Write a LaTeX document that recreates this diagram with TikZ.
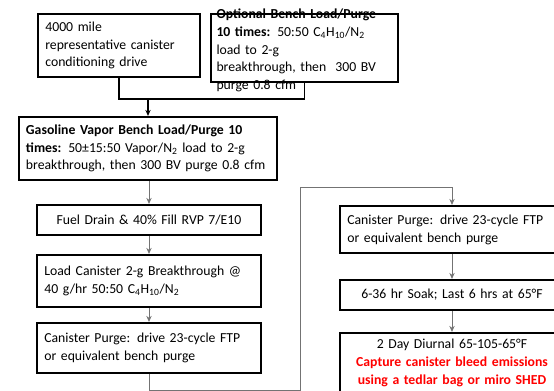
\documentclass[tikz,border=0pt]{standalone}
\usepackage{fontspec}
\setmainfont{Carlito}
\usepackage{xcolor}
\usetikzlibrary{arrows.meta}

\begin{document}
\begin{tikzpicture}[
  x=0.75pt, y=-0.75pt,
  font=\fontsize{10.3}{13.4}\selectfont,
  >={Stealth[length=1.6mm,width=1.4mm]},
  stepbox/.style={rectangle, draw=black, line width=1.6pt, fill=white,
        inner xsep=5.5pt, inner ysep=2pt, align=left},
  widebox/.style={stepbox, text width=157pt, minimum height=#1},
  midbox/.style={stepbox, align=center, text width=157pt, minimum height=#1},
  flow/.style={->, black!55, line width=0.6pt},
  mainflow/.style={black, line width=1.3pt},
]
\useasboundingbox (0,0) rectangle (554,391);
\clip (0,0) rectangle (554,391);

% --- Top row: conditioning drive and optional bench load ---
\node[stepbox, text width=110.5pt, minimum height=47.25pt] (cond) at (119,45.5)
  {4000 mile\\representative canister\\conditioning drive};

\node[rectangle, draw=black, line width=1.6pt, minimum width=140.25pt,
      minimum height=51pt, inner sep=0pt] (opt) at (304.5,48) {};
\node[align=left, text width=132pt, inner sep=0pt] (optlbl) at ([yshift=-1.8pt]opt.center)
  {\textbf{Optional Bench Load/Purge}\\
   \textbf{10 times:} 50:50 C\textsubscript{4}H\textsubscript{10}/N\textsubscript{2}\\
   load to 2-g\\
   breakthrough, then \ 300 BV\\
   purge 0.8 cfm};

% --- Gasoline vapor bench cycling ---
\node[stepbox, text width=183pt, minimum height=47.25pt] (gasbench) at (148,148.5)
  {\textbf{Gasoline Vapor Bench Load/Purge 10}\\
   \textbf{times:} 50±15:50 Vapor/N\textsubscript{2} load to 2-g\\
   breakthrough, then 300 BV purge 0.8 cfm};

% --- Left column ---
\node[midbox=22.5pt] (drain) at (149,220) {Fuel Drain \& 40\% Fill RVP 7/E10};
\node[widebox=39pt] (loadcan) at (149,281)
  {Load Canister 2-g Breakthrough @\\
   40 g/hr 50:50 C\textsubscript{4}H\textsubscript{10}/N\textsubscript{2}};
\node[widebox=37.5pt] (purgeL) at (149,348)
  {Canister Purge: drive 23-cycle FTP\\or equivalent bench purge};

% --- Right column ---
\node[widebox=35.25pt] (purgeR) at (452,229.5)
  {Canister Purge: drive 23-cycle FTP\\or equivalent bench purge};
\node[midbox=22.5pt] (soak) at (452,295) {6-36 hr Soak; Last 6 hrs at 65°F};
\node[midbox=45pt] (diurnal) at (452,363)
  {2 Day Diurnal 65-105-65°F\\
   \textcolor{red}{\textbf{Capture canister bleed emissions}}\\
   \textcolor{red}{\textbf{using a tedlar bag or miro SHED}}};

% --- Top connectors merging into the bench cycle ---
\coordinate (merge) at (148,99);
\draw[mainflow] (cond.south) |- (merge);
\draw[mainflow] (opt.south) |- (merge);
\draw[mainflow, ->] (merge) -- (gasbench.north);

% --- Left column arrows ---
\draw[flow] (gasbench.south -| drain.north) -- (drain.north);
\draw[flow] (drain) -- (loadcan);
\draw[flow] (loadcan) -- (purgeL);

% --- Loop over to the right column ---
\coordinate (loopbot) at (300,390);
\coordinate (looptop) at (300,187);
\draw[flow] (purgeL.south) |- (loopbot) -- (looptop) -| (purgeR.north);

% --- Right column arrows ---
\draw[flow] (purgeR) -- (soak);
\draw[flow] (soak) -- (diurnal);

\end{tikzpicture}
\end{document}
